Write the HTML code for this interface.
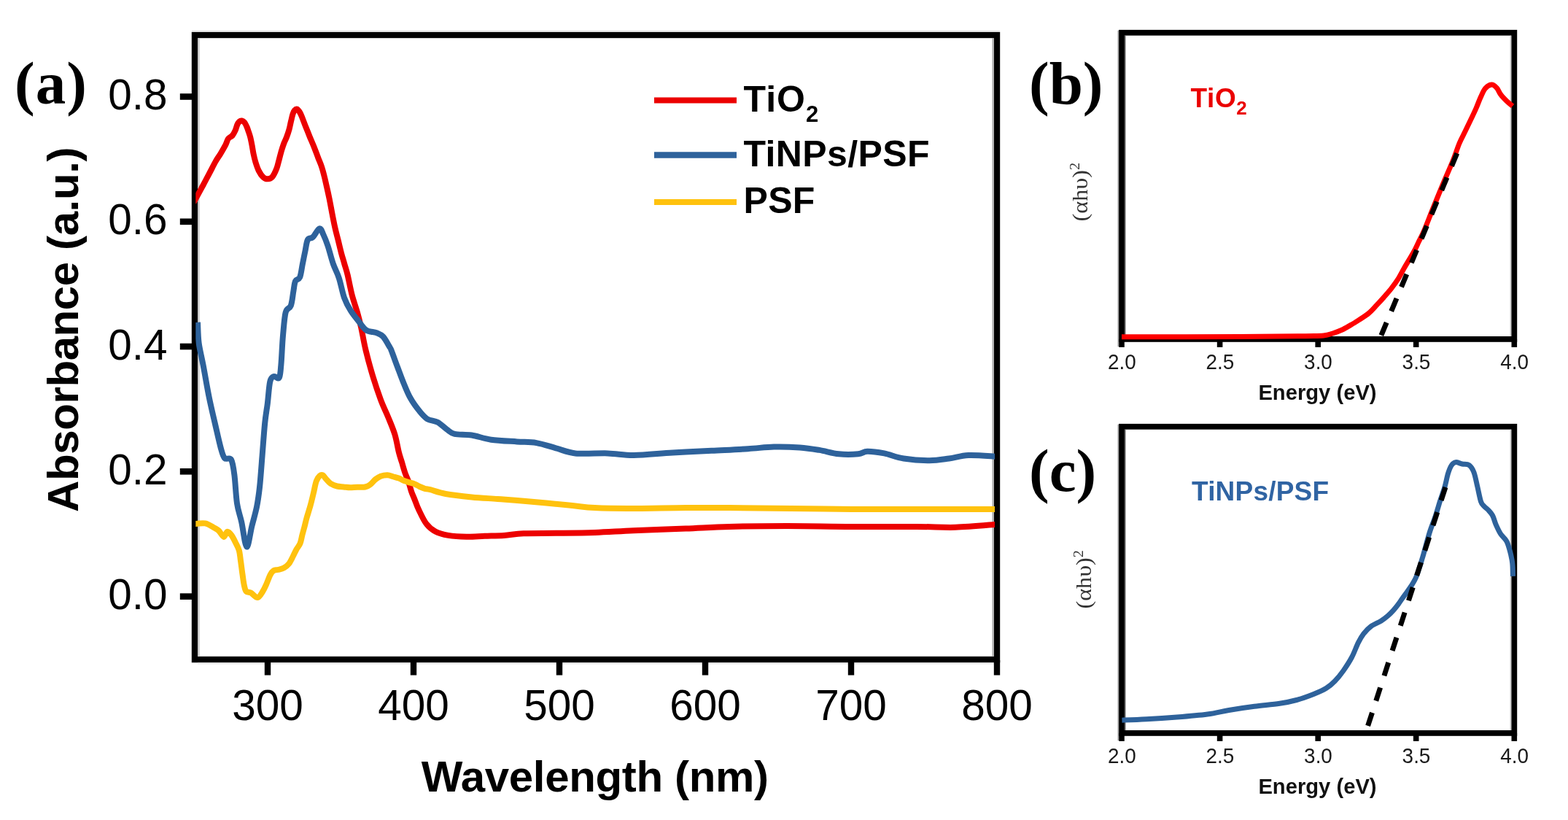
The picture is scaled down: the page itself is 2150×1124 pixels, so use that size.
<!DOCTYPE html>
<html><head><meta charset="utf-8"><title>UV-vis absorbance spectra</title>
<style>
html,body{margin:0;padding:0;background:#fff;width:2150px;height:1124px;overflow:hidden}
svg{display:block}
.tl{font-family:"Liberation Sans",Arial,sans-serif;font-size:58.5px;fill:#000}
.lg{font-family:"Liberation Sans",Arial,sans-serif;font-size:50px;font-weight:bold;fill:#000}
.al{font-family:"Liberation Sans",Arial,sans-serif;font-size:60px;font-weight:bold;fill:#000}
.pl{font-family:"Liberation Serif","Times New Roman",serif;font-size:83px;font-weight:bold;fill:#000}
.st{font-family:"Liberation Sans",Arial,sans-serif;font-size:30px;fill:#1a1a1a}
.el{font-family:"Liberation Sans",Arial,sans-serif;font-size:29.2px;font-weight:bold;fill:#111}
.sl{font-family:"Liberation Sans",Arial,sans-serif;font-size:37px;font-weight:bold}
.yl{font-family:"Liberation Serif","Times New Roman",serif;font-size:28.5px;fill:#333}
</style></head>
<body>
<svg width="2150" height="1124" viewBox="0 0 2150 1124">
<rect width="2150" height="1124" fill="#fff"/>
<rect x="267" y="48" width="1100" height="856" fill="none" stroke="#000" stroke-width="8.4"/>
<line x1="272.5" y1="52" x2="272.5" y2="900" stroke="#c4c4c4" stroke-width="2"/>
<line x1="1361.5" y1="52" x2="1361.5" y2="900" stroke="#a8a8a8" stroke-width="2"/>
<line x1="263" y1="42.8" x2="1371" y2="42.8" stroke="#e4e4e4" stroke-width="2"/>
<line x1="271" y1="909.3" x2="1371" y2="909.3" stroke="#e4e4e4" stroke-width="2"/>
<line x1="246.8" y1="817.6" x2="264" y2="817.6" stroke="#000" stroke-width="8.6"/>
<text class="tl" x="229.5" y="835.2" text-anchor="end">0.0</text>
<line x1="246.8" y1="646.3" x2="264" y2="646.3" stroke="#000" stroke-width="8.6"/>
<text class="tl" x="229.5" y="663.9" text-anchor="end">0.2</text>
<line x1="246.8" y1="475.0" x2="264" y2="475.0" stroke="#000" stroke-width="8.6"/>
<text class="tl" x="229.5" y="492.6" text-anchor="end">0.4</text>
<line x1="246.8" y1="303.8" x2="264" y2="303.8" stroke="#000" stroke-width="8.6"/>
<text class="tl" x="229.5" y="321.4" text-anchor="end">0.6</text>
<line x1="246.8" y1="132.5" x2="264" y2="132.5" stroke="#000" stroke-width="8.6"/>
<text class="tl" x="229.5" y="150.1" text-anchor="end">0.8</text>
<line x1="367.0" y1="905" x2="367.0" y2="925.5" stroke="#000" stroke-width="8.4"/>
<text class="tl" x="367.0" y="986.6" text-anchor="middle">300</text>
<line x1="567.0" y1="905" x2="567.0" y2="925.5" stroke="#000" stroke-width="8.4"/>
<text class="tl" x="567.0" y="986.6" text-anchor="middle">400</text>
<line x1="767.0" y1="905" x2="767.0" y2="925.5" stroke="#000" stroke-width="8.4"/>
<text class="tl" x="767.0" y="986.6" text-anchor="middle">500</text>
<line x1="967.0" y1="905" x2="967.0" y2="925.5" stroke="#000" stroke-width="8.4"/>
<text class="tl" x="967.0" y="986.6" text-anchor="middle">600</text>
<line x1="1167.0" y1="905" x2="1167.0" y2="925.5" stroke="#000" stroke-width="8.4"/>
<text class="tl" x="1167.0" y="986.6" text-anchor="middle">700</text>
<line x1="1367.0" y1="905" x2="1367.0" y2="925.5" stroke="#000" stroke-width="8.4"/>
<text class="tl" x="1367.0" y="986.6" text-anchor="middle">800</text>
<defs><clipPath id="ca"><rect x="268.3" y="40" width="1095.7" height="870"/></clipPath></defs>
<g clip-path="url(#ca)">
<path d="M265.5 277.5 C267.6 273.8 274.3 261.7 277.8 255.2 C281.3 248.7 283.7 243.9 286.7 238.3 C289.7 232.7 293.0 226.0 295.6 221.4 C298.2 216.8 300.2 214.4 302.4 210.7 C304.6 207.0 307.2 202.5 309.0 199.1 C310.8 195.7 311.4 192.2 313.0 190.0 C314.6 187.8 316.9 187.8 318.5 186.0 C320.1 184.2 321.4 181.5 322.6 178.9 C323.8 176.3 324.5 172.6 325.5 170.5 C326.5 168.4 327.5 167.1 328.5 166.3 C329.5 165.5 330.4 165.3 331.5 165.5 C332.6 165.7 333.8 166.1 335.0 167.5 C336.2 168.9 337.5 171.8 338.5 174.0 C339.5 176.2 340.2 178.7 341.0 181.0 C341.8 183.3 342.4 184.8 343.2 187.9 C344.0 191.0 344.9 195.7 345.6 199.5 C346.3 203.3 346.8 207.2 347.6 211.0 C348.4 214.8 349.3 218.8 350.5 222.6 C351.7 226.4 353.1 230.7 354.8 234.1 C356.5 237.5 358.9 240.9 360.9 242.8 C362.9 244.7 364.9 245.4 367.0 245.3 C369.1 245.2 371.4 244.7 373.5 242.3 C375.6 239.9 377.9 234.5 379.3 231.0 C380.7 227.5 381.2 224.2 382.1 221.1 C383.0 218.0 383.6 215.2 384.4 212.2 C385.2 209.2 386.1 206.0 387.0 203.3 C387.9 200.6 388.5 198.6 389.5 196.0 C390.5 193.4 391.8 191.1 393.0 188.0 C394.2 184.9 395.5 181.0 396.5 177.4 C397.5 173.8 398.0 170.3 398.9 166.7 C399.8 163.1 400.7 158.6 401.6 156.0 C402.5 153.4 403.2 152.1 404.2 151.0 C405.1 149.9 406.2 149.2 407.3 149.5 C408.4 149.8 409.4 151.3 410.5 153.0 C411.6 154.7 412.3 156.1 413.7 159.5 C415.1 162.9 417.2 168.8 419.1 173.5 C421.0 178.2 422.9 183.0 424.8 187.7 C426.8 192.4 428.9 197.2 430.8 201.9 C432.7 206.7 434.5 211.8 436.2 216.2 C437.9 220.6 439.6 224.4 441.0 228.5 C442.4 232.6 443.3 236.4 444.5 241.0 C445.7 245.6 446.8 250.8 448.0 256.0 C449.2 261.2 450.3 266.1 451.5 272.0 C452.7 277.9 453.9 284.6 455.2 291.4 C456.5 298.2 458.1 306.3 459.5 312.7 C460.9 319.1 462.4 324.1 463.8 329.8 C465.2 335.5 466.6 341.6 468.0 346.9 C469.4 352.2 470.9 356.8 472.3 361.8 C473.7 366.8 474.9 369.7 476.6 376.8 C478.3 383.9 480.5 396.1 482.7 404.6 C484.9 413.1 487.7 420.3 489.8 427.7 C491.9 435.1 493.2 440.3 495.2 449.0 C497.1 457.7 498.8 468.9 501.5 480.0 C504.2 491.1 507.8 504.3 511.2 515.6 C514.6 526.9 518.4 538.1 521.9 547.6 C525.4 557.1 529.2 564.5 532.5 572.5 C535.8 580.5 539.0 587.8 541.4 595.7 C543.8 603.6 545.3 613.6 546.9 620.0 C548.5 626.4 549.8 629.5 551.2 634.2 C552.6 639.0 554.1 644.4 555.5 648.5 C556.9 652.6 558.4 655.0 559.8 659.1 C561.2 663.2 562.6 669.2 564.0 673.4 C565.4 677.6 566.6 680.0 568.3 684.1 C570.0 688.2 571.3 692.7 574.0 698.3 C576.7 703.9 580.7 712.9 584.5 717.9 C588.3 722.9 591.9 725.8 596.9 728.5 C601.9 731.2 607.6 732.7 614.7 733.9 C621.8 735.1 631.3 735.6 639.6 735.7 C647.9 735.9 656.0 735.1 664.6 734.8 C673.2 734.5 682.3 734.5 691.2 733.9 C700.1 733.3 706.0 731.7 717.9 731.2 C729.8 730.7 746.0 731.0 762.3 730.8 C778.6 730.6 797.9 730.5 815.7 729.9 C833.5 729.3 848.2 728.1 869.0 727.2 C889.8 726.3 918.4 725.5 940.2 724.6 C962.0 723.7 976.9 722.5 1000.0 721.9 C1023.1 721.3 1051.0 721.0 1079.0 721.0 C1107.0 721.0 1138.2 721.8 1167.9 721.9 C1197.6 722.0 1233.2 721.8 1256.9 721.9 C1280.6 722.0 1292.0 723.3 1310.2 722.8 C1328.4 722.3 1356.7 719.5 1366.0 718.8" fill="none" stroke="#ec0000" stroke-width="8.0" stroke-linejoin="round" stroke-linecap="butt"/>
<path d="M265.0 718.3 C267.7 718.1 276.6 716.5 281.4 717.4 C286.2 718.3 290.7 721.9 293.8 723.6 C296.9 725.3 297.8 725.4 300.0 727.5 C302.2 729.6 305.0 735.8 306.9 736.0 C308.8 736.2 309.9 729.3 311.6 728.9 C313.3 728.5 315.4 731.0 317.3 733.5 C319.2 736.0 321.4 740.5 323.1 744.0 C324.9 747.5 326.6 750.2 327.8 754.4 C329.0 758.6 329.3 764.0 330.1 769.4 C330.9 774.8 331.6 781.3 332.4 786.7 C333.2 792.1 333.8 797.8 334.7 801.8 C335.6 805.8 335.9 808.7 337.5 810.5 C339.1 812.3 341.4 811.1 344.0 812.5 C346.6 813.9 350.5 819.4 353.2 819.1 C355.9 818.9 358.2 813.9 360.1 811.0 C362.0 808.1 363.1 805.6 364.8 801.8 C366.6 797.9 368.9 791.2 370.6 787.9 C372.3 784.6 373.5 783.2 375.2 782.1 C376.9 781.0 378.7 781.6 381.0 781.0 C383.3 780.4 386.6 780.0 389.1 778.6 C391.6 777.2 393.9 775.6 396.0 772.9 C398.1 770.2 400.1 765.8 401.8 762.5 C403.5 759.2 404.8 756.1 406.4 753.2 C408.0 750.3 410.1 748.4 411.5 745.0 C412.9 741.6 413.5 736.8 414.5 733.0 C415.5 729.2 416.5 725.8 417.5 722.0 C418.5 718.2 419.1 715.0 420.5 710.0 C421.9 705.0 424.2 698.2 425.8 692.3 C427.4 686.4 428.9 680.0 430.2 674.5 C431.5 669.0 432.4 663.1 433.8 659.4 C435.2 655.7 436.8 653.5 438.3 652.2 C439.8 650.9 441.2 650.6 442.7 651.4 C444.2 652.1 445.4 654.8 447.2 656.7 C449.0 658.6 450.9 661.3 453.4 662.9 C455.9 664.5 459.3 665.8 462.3 666.5 C465.3 667.2 468.2 667.1 471.2 667.4 C474.2 667.7 477.0 668.2 480.1 668.3 C483.2 668.3 486.6 667.8 490.0 667.7 C493.4 667.6 497.7 668.1 500.7 667.5 C503.7 666.9 505.4 665.9 507.8 664.1 C510.2 662.4 512.5 658.9 514.9 657.0 C517.3 655.1 519.3 653.7 522.0 652.7 C524.7 651.8 528.3 651.2 531.3 651.3 C534.3 651.4 537.2 652.8 539.8 653.5 C542.4 654.2 544.5 654.7 546.9 655.6 C549.3 656.5 551.7 658.2 554.1 659.1 C556.5 660.0 558.8 660.6 561.2 661.3 C563.6 662.0 565.9 662.4 568.3 663.4 C570.7 664.4 573.0 665.9 575.4 667.0 C577.8 668.1 580.1 669.1 582.5 669.8 C584.9 670.5 585.2 670.0 590.0 671.2 C594.8 672.4 601.7 675.3 611.2 677.0 C620.7 678.7 634.9 680.2 646.8 681.4 C658.6 682.6 670.4 683.1 682.3 684.0 C694.2 684.9 701.7 685.3 718.0 686.7 C734.3 688.1 763.8 690.9 780.1 692.5 C796.4 694.1 800.9 695.4 815.7 696.1 C830.5 696.9 848.2 697.0 869.0 697.0 C889.8 697.0 918.4 696.2 940.2 696.1 C962.0 696.0 962.0 695.8 1000.0 696.1 C1038.0 696.4 1106.9 697.6 1167.9 697.9 C1228.9 698.2 1333.0 697.9 1366.0 697.9" fill="none" stroke="#ffc20e" stroke-width="8.0" stroke-linejoin="round" stroke-linecap="butt"/>
<path d="M271.0 441.8 C271.3 446.5 271.4 460.3 272.6 470.0 C273.9 479.7 276.1 487.6 278.5 500.0 C280.9 512.4 284.0 531.2 286.7 544.5 C289.4 557.8 292.0 568.4 294.7 580.0 C297.4 591.6 300.5 605.9 302.7 613.9 C304.9 621.9 305.6 625.3 308.0 628.0 C310.4 630.7 314.8 626.2 317.0 630.0 C319.2 633.8 320.1 641.0 321.4 651.0 C322.7 661.0 323.4 679.2 325.0 690.0 C326.6 700.8 329.0 705.7 331.2 715.6 C333.4 725.5 335.9 748.5 338.3 749.4 C340.7 750.3 343.1 730.1 345.4 721.0 C347.7 711.9 350.2 703.8 352.0 695.0 C353.8 686.2 354.7 679.7 356.0 668.0 C357.3 656.3 358.4 639.3 359.6 624.6 C360.8 609.9 362.0 591.9 363.2 580.0 C364.4 568.1 365.6 562.9 366.8 553.4 C368.0 543.9 368.8 529.2 370.3 523.0 C371.8 516.8 373.6 516.9 375.7 516.0 C377.8 515.1 381.2 520.5 382.8 517.8 C384.4 515.1 384.5 509.6 385.4 500.0 C386.3 490.4 386.9 472.0 388.0 460.0 C389.1 448.0 389.9 434.8 391.7 428.0 C393.5 421.2 397.0 423.7 398.8 419.0 C400.6 414.3 401.3 405.2 402.3 399.6 C403.3 394.0 403.5 388.7 405.0 385.4 C406.5 382.1 409.6 383.9 411.2 380.0 C412.8 376.1 413.6 368.2 414.8 362.3 C416.0 356.4 417.2 350.1 418.4 344.5 C419.6 338.9 420.2 331.8 422.0 328.5 C423.8 325.2 426.3 327.5 429.0 325.0 C431.7 322.5 435.6 313.9 438.0 313.3 C440.4 312.7 441.4 317.4 443.3 321.4 C445.2 325.3 447.2 330.2 449.5 337.0 C451.8 343.8 454.3 354.5 456.9 361.9 C459.5 369.3 462.4 373.7 464.9 381.4 C467.4 389.1 469.3 400.7 472.0 408.1 C474.7 415.5 477.6 420.6 480.9 425.9 C484.2 431.2 488.0 435.7 491.6 440.1 C495.2 444.6 498.2 449.9 502.3 452.6 C506.4 455.3 512.6 454.7 516.5 456.2 C520.4 457.7 522.4 458.2 525.4 461.5 C528.4 464.8 532.4 472.6 534.3 475.7 C536.1 478.8 534.7 475.4 536.5 480.0 C538.3 484.6 542.1 495.3 545.0 503.0 C547.9 510.7 550.9 519.2 553.9 526.3 C556.9 533.4 559.2 539.6 562.8 545.8 C566.3 552.0 571.4 558.9 575.2 563.6 C579.1 568.4 581.8 571.8 585.9 574.3 C590.0 576.8 595.6 576.4 600.1 578.8 C604.6 581.2 608.7 585.8 612.6 588.5 C616.5 591.2 617.6 593.5 623.3 594.8 C629.0 596.1 638.4 595.2 646.7 596.5 C655.1 597.8 663.0 601.2 673.4 602.7 C683.8 604.2 698.6 604.7 709.0 605.4 C719.4 606.1 726.7 605.6 735.6 607.1 C744.5 608.6 753.4 611.9 762.3 614.3 C771.2 616.7 777.1 620.2 789.0 621.4 C800.9 622.6 820.2 621.0 833.5 621.4 C846.8 621.8 854.2 624.1 869.0 624.0 C883.8 623.9 904.6 621.5 922.4 620.5 C940.2 619.5 958.6 618.7 975.8 617.8 C993.0 616.9 1011.4 616.1 1025.6 615.2 C1039.8 614.3 1049.3 612.8 1061.2 612.5 C1073.1 612.2 1086.3 612.7 1096.7 613.4 C1107.1 614.1 1114.5 615.4 1123.4 616.9 C1132.3 618.4 1141.2 621.4 1150.1 622.3 C1159.0 623.2 1170.3 622.9 1176.8 622.3 C1183.3 621.7 1183.4 618.9 1189.3 618.7 C1195.2 618.6 1204.1 619.8 1212.4 621.4 C1220.7 623.0 1228.7 626.9 1239.1 628.5 C1249.5 630.1 1264.2 631.2 1274.6 631.2 C1285.0 631.2 1292.4 629.7 1301.3 628.5 C1310.2 627.3 1317.2 624.5 1328.0 624.0 C1338.8 623.5 1359.7 625.5 1366.0 625.8" fill="none" stroke="#2e629b" stroke-width="8.0" stroke-linejoin="round" stroke-linecap="butt"/>
</g>
<line x1="897" y1="137.6" x2="1010" y2="137.6" stroke="#ec0000" stroke-width="8"/>
<line x1="897" y1="212.5" x2="1010" y2="212.5" stroke="#2e629b" stroke-width="8.5"/>
<line x1="897" y1="277" x2="1010" y2="277" stroke="#ffc20e" stroke-width="8"/>
<text id="lg1" class="lg" x="1019.5" y="152.5" letter-spacing="1">TiO<tspan font-size="31" dy="14.5" letter-spacing="0">2</tspan></text>
<text id="lg2" class="lg" x="1019.5" y="228" letter-spacing="0.4">TiNPs/PSF</text>
<text id="lg3" class="lg" x="1019.5" y="292" letter-spacing="0.3">PSF</text>
<text id="xlab" class="al" x="815.7" y="1084.8" text-anchor="middle" letter-spacing="-0.35">Wavelength (nm)</text>
<text id="ylab" class="al" transform="translate(107.3 452) rotate(-90)" text-anchor="middle" letter-spacing="-0.4">Absorbance (a.u.)</text>
<text id="pa" class="pl" x="20" y="141.5" letter-spacing="1">(a)</text>
<rect x="1538.0" y="44.8" width="538.3" height="420.1" fill="none" stroke="#000" stroke-width="7.8"/>
<line x1="1533.3" y1="41.8" x2="1533.3" y2="474.9" stroke="#a0a0a0" stroke-width="1.6"/>
<line x1="1542.6" y1="48.8" x2="1542.6" y2="460.9" stroke="#555" stroke-width="1.6"/>
<line x1="2071.3" y1="48.8" x2="2071.3" y2="460.9" stroke="#c8c8c8" stroke-width="1.4"/>
<line x1="1538.0" y1="464.9" x2="1538.0" y2="475.9" stroke="#000" stroke-width="7.6"/>
<text class="st" transform="translate(1538.3 506.3) scale(0.93 1)" text-anchor="middle">2.0</text>
<line x1="1672.6" y1="464.9" x2="1672.6" y2="475.9" stroke="#000" stroke-width="7.6"/>
<text class="st" transform="translate(1672.9 506.3) scale(0.93 1)" text-anchor="middle">2.5</text>
<line x1="1807.2" y1="464.9" x2="1807.2" y2="475.9" stroke="#000" stroke-width="7.6"/>
<text class="st" transform="translate(1807.5 506.3) scale(0.93 1)" text-anchor="middle">3.0</text>
<line x1="1941.7" y1="464.9" x2="1941.7" y2="475.9" stroke="#000" stroke-width="7.6"/>
<text class="st" transform="translate(1942.0 506.3) scale(0.93 1)" text-anchor="middle">3.5</text>
<line x1="2076.3" y1="464.9" x2="2076.3" y2="475.9" stroke="#000" stroke-width="7.6"/>
<text class="st" transform="translate(2076.6 506.3) scale(0.93 1)" text-anchor="middle">4.0</text>
<path d="M1538.0 461.8 C1565.0 461.8 1658.0 461.7 1700.0 461.5 C1742.0 461.3 1770.8 460.9 1790.0 460.7 C1809.2 460.4 1808.7 460.6 1814.9 460.0 C1821.1 459.4 1823.2 458.3 1827.4 457.0 C1831.6 455.7 1835.7 454.2 1839.8 452.3 C1843.9 450.4 1848.1 447.8 1852.3 445.4 C1856.5 443.0 1860.5 440.4 1864.7 437.7 C1868.9 435.0 1873.3 432.3 1877.2 429.0 C1881.1 425.7 1884.6 421.4 1888.0 417.8 C1891.4 414.2 1894.1 411.4 1897.4 407.6 C1900.7 403.8 1904.8 399.4 1908.0 395.2 C1911.2 391.0 1913.9 387.4 1916.9 382.7 C1919.9 377.9 1923.0 371.6 1925.8 366.7 C1928.6 361.8 1931.5 357.2 1933.8 353.3 C1936.1 349.4 1937.5 347.2 1939.5 343.5 C1941.5 339.8 1943.3 335.6 1945.5 331.0 C1947.7 326.4 1949.5 323.7 1952.7 316.2 C1955.9 308.7 1960.5 296.5 1964.8 285.9 C1969.1 275.3 1973.9 263.4 1978.4 252.6 C1982.9 241.8 1988.2 230.2 1992.0 220.8 C1995.8 211.5 1998.2 203.3 2001.0 196.5 C2003.8 189.7 2006.4 185.5 2009.0 180.1 C2011.6 174.7 2014.2 169.3 2016.7 164.1 C2019.2 158.9 2021.6 153.9 2023.8 148.9 C2026.0 143.9 2027.9 138.4 2030.0 133.8 C2032.1 129.2 2033.8 124.4 2036.3 121.4 C2038.8 118.4 2042.5 116.2 2045.2 116.0 C2047.9 115.8 2050.2 118.3 2052.3 120.5 C2054.4 122.7 2055.4 126.4 2057.6 129.4 C2059.8 132.4 2062.9 135.6 2065.6 138.3 C2068.3 141.0 2072.6 144.2 2074.0 145.4" fill="none" stroke="#ff0000" stroke-width="7" stroke-linejoin="round"/>
<line x1="1893.9" y1="459.7" x2="1998.5" y2="208.5" stroke="#000" stroke-width="7" stroke-dasharray="19 16.9"/>
<text class="el" x="1806.5" y="547.8" text-anchor="middle">Energy (eV)</text>
<text id="tb" class="sl" x="1632.5" y="146.7" fill="#ea0000" letter-spacing="0.6">TiO<tspan font-size="26" dy="10.5" letter-spacing="0">2</tspan></text>
<text class="pl" x="1411" y="141.7">(b)</text>
<text id="ylb" class="yl" transform="translate(1490.7 263.2) rotate(-90) scale(1.13 1)" text-anchor="middle">(&#945;h&#965;)<tspan font-size="18" dy="-11">2</tspan></text>
<rect x="1538.0" y="584.8" width="538.3" height="420.1" fill="none" stroke="#000" stroke-width="7.8"/>
<line x1="1533.3" y1="581.8" x2="1533.3" y2="1014.9" stroke="#a0a0a0" stroke-width="1.6"/>
<line x1="1542.6" y1="588.8" x2="1542.6" y2="1000.9" stroke="#555" stroke-width="1.6"/>
<line x1="2071.3" y1="588.8" x2="2071.3" y2="1000.9" stroke="#c8c8c8" stroke-width="1.4"/>
<line x1="1538.0" y1="1004.9" x2="1538.0" y2="1015.9" stroke="#000" stroke-width="7.6"/>
<text class="st" transform="translate(1538.3 1046.3) scale(0.93 1)" text-anchor="middle">2.0</text>
<line x1="1672.6" y1="1004.9" x2="1672.6" y2="1015.9" stroke="#000" stroke-width="7.6"/>
<text class="st" transform="translate(1672.9 1046.3) scale(0.93 1)" text-anchor="middle">2.5</text>
<line x1="1807.2" y1="1004.9" x2="1807.2" y2="1015.9" stroke="#000" stroke-width="7.6"/>
<text class="st" transform="translate(1807.5 1046.3) scale(0.93 1)" text-anchor="middle">3.0</text>
<line x1="1941.7" y1="1004.9" x2="1941.7" y2="1015.9" stroke="#000" stroke-width="7.6"/>
<text class="st" transform="translate(1942.0 1046.3) scale(0.93 1)" text-anchor="middle">3.5</text>
<line x1="2076.3" y1="1004.9" x2="2076.3" y2="1015.9" stroke="#000" stroke-width="7.6"/>
<text class="st" transform="translate(2076.6 1046.3) scale(0.93 1)" text-anchor="middle">4.0</text>
<path d="M1538.4 987.2 C1544.0 987.0 1559.4 986.5 1571.9 985.8 C1584.5 985.1 1599.8 984.1 1613.7 983.0 C1627.7 981.9 1643.7 980.6 1655.6 979.0 C1667.5 977.4 1674.3 975.3 1685.0 973.5 C1695.7 971.7 1708.4 969.8 1720.0 968.3 C1731.6 966.8 1745.0 965.8 1754.7 964.3 C1764.4 962.8 1770.2 961.6 1777.9 959.5 C1785.7 957.4 1794.4 954.2 1801.2 951.5 C1808.0 948.8 1813.8 946.3 1818.6 943.3 C1823.4 940.3 1826.3 937.7 1830.2 933.7 C1834.1 929.7 1838.0 924.9 1841.9 919.4 C1845.8 913.9 1850.1 907.4 1853.5 901.0 C1856.9 894.6 1859.6 886.5 1862.3 881.1 C1865.0 875.7 1866.9 872.4 1869.8 868.6 C1872.7 864.9 1875.8 861.5 1879.8 858.6 C1883.8 855.7 1889.6 853.6 1893.5 851.2 C1897.4 848.8 1900.1 846.6 1903.0 844.1 C1905.9 841.6 1908.6 838.8 1911.0 836.1 C1913.4 833.4 1915.4 830.8 1917.4 828.1 C1919.4 825.4 1921.0 822.8 1923.0 820.0 C1925.0 817.2 1927.4 814.0 1929.4 811.2 C1931.4 808.4 1933.3 805.9 1935.0 803.2 C1936.7 800.5 1938.5 797.7 1939.8 795.2 C1941.1 792.7 1941.9 790.8 1943.0 788.0 C1944.1 785.2 1945.1 781.7 1946.2 778.4 C1947.3 775.1 1948.5 771.1 1949.4 768.0 C1950.3 764.9 1950.0 766.2 1951.8 760.0 C1953.6 753.8 1957.3 739.2 1960.0 730.6 C1962.7 722.0 1965.6 715.3 1968.0 708.1 C1970.4 700.9 1972.3 694.0 1974.4 687.3 C1976.5 680.6 1978.9 674.5 1980.8 668.1 C1982.7 661.7 1984.0 653.9 1985.6 648.8 C1987.2 643.7 1988.7 640.1 1990.4 637.6 C1992.1 635.1 1993.6 633.9 1996.0 633.6 C1998.4 633.3 2001.9 635.3 2005.0 636.0 C2008.1 636.7 2011.8 635.7 2014.5 637.6 C2017.2 639.5 2019.0 642.4 2020.9 647.2 C2022.8 652.0 2024.1 659.8 2025.7 666.5 C2027.3 673.2 2029.0 682.7 2030.5 687.3 C2032.0 691.9 2033.4 692.1 2035.0 694.0 C2036.6 695.9 2038.2 696.4 2040.1 698.5 C2042.0 700.6 2044.6 703.0 2046.5 706.5 C2048.4 710.0 2049.4 715.1 2051.3 719.4 C2053.2 723.7 2055.4 728.5 2057.8 732.2 C2060.2 735.9 2063.7 737.8 2065.8 741.8 C2067.9 745.8 2069.3 751.1 2070.6 756.2 C2071.9 761.3 2073.2 766.6 2073.8 772.2 C2074.5 777.8 2074.4 787.0 2074.5 789.9" fill="none" stroke="#2e629b" stroke-width="7" stroke-linejoin="round"/>
<line x1="1875.6" y1="994.9" x2="1982.2" y2="667.2" stroke="#000" stroke-width="7" stroke-dasharray="19 17.1"/>
<text class="el" x="1806.5" y="1087.8" text-anchor="middle">Energy (eV)</text>
<text id="tc" class="sl" x="1634" y="685.9" fill="#3064a3" letter-spacing="0.2">TiNPs/PSF</text>
<text class="pl" x="1411" y="673.2">(c)</text>
<text id="ylc" class="yl" transform="translate(1496.2 794.3) rotate(-90) scale(1.13 1)" text-anchor="middle">(&#945;h&#965;)<tspan font-size="18" dy="-11">2</tspan></text>
</svg>
</body></html>
